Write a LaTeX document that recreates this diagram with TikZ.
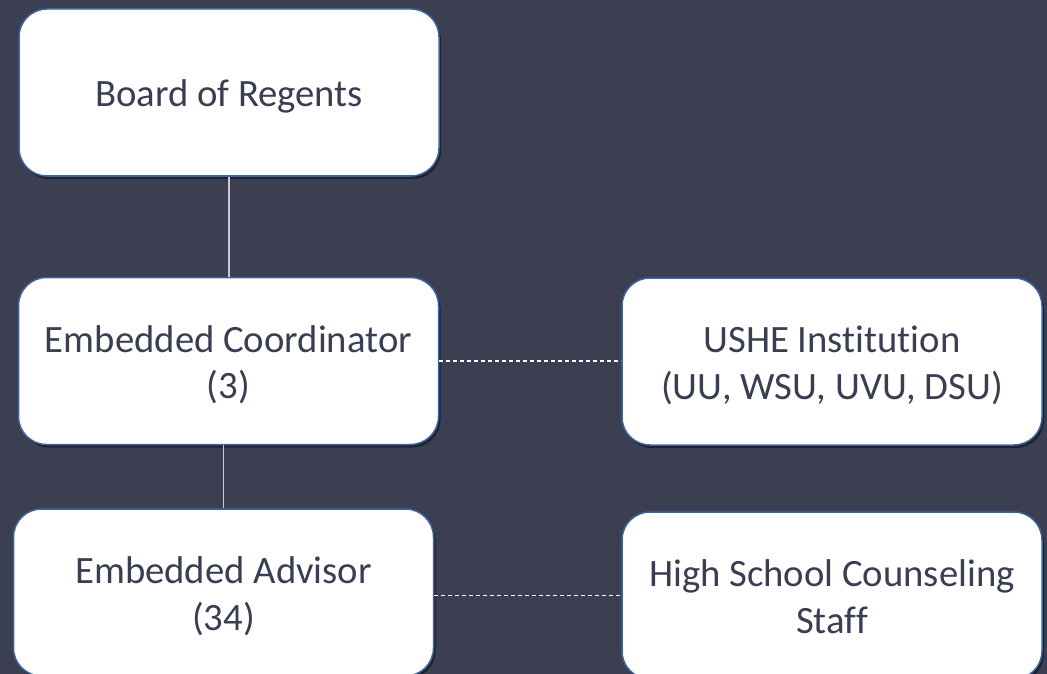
\documentclass[tikz,border=0pt]{standalone}
\usepackage{fontspec}
\setmainfont{Carlito}[Ligatures=NoCommon]
\usetikzlibrary{shadows}
\definecolor{bg}{HTML}{3B3F51}
\definecolor{txt}{HTML}{3A3E52}
\definecolor{bord}{HTML}{3E65A3}
\definecolor{solidln}{HTML}{C9CACF}
\newcommand{\boxtext}[1]{\raisebox{-5pt}[\height][\depth]{\begin{tabular}{@{}c@{}}#1\end{tabular}}}
\tikzset{
  orgbox/.style={draw=bord, line width=1.5pt, fill=white, rounded corners=28pt,
    minimum width=420pt, minimum height=167pt, inner sep=0pt,
    text=txt, font=\fontsize{38.7}{46.5}\selectfont,
    drop shadow={shadow xshift=2pt, shadow yshift=-3pt, opacity=0.45, fill=black}},
  solidlink/.style={draw=solidln, line width=1.2pt},
  dashlink/.style={draw=white, line width=1.1pt, dash pattern=on 4pt off 3pt}
}
\begin{document}
\begin{tikzpicture}[x=1pt,y=-1pt]
\useasboundingbox (0,0) rectangle (1047,674);
\clip (0,0) rectangle (1047,674);
\fill[bg] (0,0) rectangle (1047,674);
\node[orgbox] (board) at (229,92.5) {\boxtext{Board of Regents}};
\node[orgbox] (coord) at (228.5,361) {\boxtext{Embedded Coordinator\\(3)}};
\node[orgbox] (ushe) at (832,361.5) {\boxtext{USHE Institution\\(UU, WSU, UVU, DSU)}};
\node[orgbox] (adv) at (223.5,592.5) {\boxtext{Embedded Advisor\\(34)}};
\node[orgbox] (hs) at (832,595.5) {\boxtext{High School Counseling\\Staff}};
\draw[solidlink] (board.south) -- (board.south |- coord.north);
\draw[solidlink] (adv.north |- coord.south) -- (adv.north);
\draw[dashlink] (coord.east) -- (coord.east -| ushe.west);
\draw[dashlink] (adv.east |- hs.west) -- (hs.west);
\end{tikzpicture}
\end{document}
